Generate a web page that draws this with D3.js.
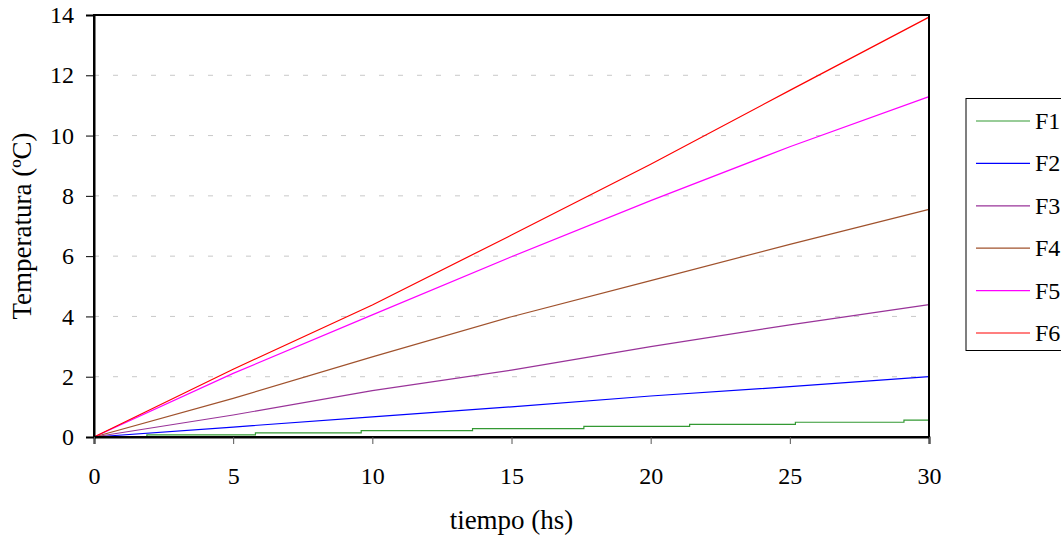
<!DOCTYPE html>
<html>
<head>
<meta charset="utf-8">
<script src="https://cdn.jsdelivr.net/npm/d3@7"></script>
<style>
	body { margin:0; background:#fff; }
	svg text { font-family:"Liberation Serif","Times New Roman",serif; fill:#000; }
</style>
</head>
<body>
<div id="chart"></div>
<script>
// hours
var tiempo = [0, 5, 10, 15, 20, 25, 30]
var F2 = [0, 0.33, 0.67, 1.0, 1.36, 1.67, 2.0]
var F3 = [0, 0.73, 1.54, 2.22, 3.0, 3.72, 4.39]
var F4 = [0, 1.28, 2.66, 3.99, 5.19, 6.39, 7.55]
var F5 = [0, 2.11, 4.05, 5.98, 7.84, 9.63, 11.29]
var F6 = [0, 2.25, 4.38, 6.70, 9.05, 11.5, 13.93]
// F1 moves in visible steps
var tiempoF1 = [0, 1.9, 5.8, 9.6, 13.6, 17.6, 21.4, 25.2, 29.1, 30]
var F1 = [0, 0.07, 0.14, 0.21, 0.28, 0.35, 0.42, 0.49, 0.56, 0.56]

var names = ["F1","F2","F3","F4","F5","F6"]
var colors = ["#339933","#0000ff","#993399","#a0522d","#ff00ff","#ff0000"]
var xTicks = [0,5,10,15,20,25,30]
var yTicks = [0,2,4,6,8,10,12,14]

var width = 1061, height = 537
var mLeft = 94, mRight = 929, mTop = 15, mBottom = 437
var serif = "'Liberation Serif','Times New Roman',serif"

var svg = d3.select("#chart").append("svg").attr("width",width).attr("height",height)

var x = d3.scaleLinear().domain([0,30]).range([mLeft,mRight])
var y = d3.scaleLinear().domain([0,14]).range([mBottom,mTop])

// grid
svg.append("g").selectAll("line").data(yTicks.filter(function(d){return d>0 && d<14})).enter()
	.append("line")
	.attr("x1",mLeft).attr("x2",mRight)
	.attr("y1",function(d){return y(d)}).attr("y2",function(d){return y(d)})
	.attr("stroke","#c8c8c8").attr("stroke-width",1)
	.attr("stroke-dasharray","5,14")

// series
var series = [
	{name:"F1", t:tiempoF1, v:F1, step:true},
	{name:"F2", t:tiempo, v:F2},
	{name:"F3", t:tiempo, v:F3},
	{name:"F4", t:tiempo, v:F4},
	{name:"F5", t:tiempo, v:F5},
	{name:"F6", t:tiempo, v:F6}
]

series.forEach(function(s,i){
	var pts = s.t.map(function(t,j){return [t,s.v[j]]})
	var line = d3.line()
		.x(function(d){return x(d[0])})
		.y(function(d){return y(d[1])})
		.curve(s.step ? d3.curveStepAfter : d3.curveLinear)
	svg.append("path").datum(pts)
		.attr("d",line)
		.attr("fill","none")
		.attr("stroke",colors[i])
		.attr("stroke-width",1.2)
})

// frame
svg.append("rect")
	.attr("x",mLeft).attr("y",mTop)
	.attr("width",mRight-mLeft).attr("height",mBottom-mTop)
	.attr("fill","none").attr("stroke","#000").attr("stroke-width",2)

// axes
var yAxis = d3.axisLeft(y).tickValues(yTicks).tickSize(8).tickPadding(12).tickFormat(d3.format("d"))
var gy = svg.append("g").attr("transform","translate("+mLeft+",0)").call(yAxis)
	.attr("font-family",serif).attr("font-size",24)
gy.select(".domain").attr("stroke","#000").attr("stroke-width",2)
gy.selectAll("text").style("font-size","24px").style("font-family",serif)

var xAxis = d3.axisBottom(x).tickValues(xTicks).tickSize(7).tickPadding(23).tickFormat(d3.format("d"))
var gx = svg.append("g").attr("transform","translate(0,"+mBottom+")").call(xAxis)
	.attr("font-family",serif).attr("font-size",24)
gx.select(".domain").attr("stroke","#000").attr("stroke-width",2)
gx.selectAll(".tick line").attr("stroke","#555")
gx.selectAll("text").style("font-size","24px").style("font-family",serif)

// titles
svg.append("text").text("tiempo (hs)")
	.attr("x",(mLeft+mRight)/2).attr("y",529)
	.attr("text-anchor","middle").style("font-size","27px")

svg.append("text").text("Temperatura (ºC)")
	.attr("transform","translate(31,226) rotate(-90)")
	.attr("text-anchor","middle").style("font-size","27px")

// legend
var lg = svg.append("g")
lg.append("rect").attr("x",966).attr("y",98.5).attr("width",110).attr("height",252)
	.attr("fill","#fff").attr("stroke","#000").attr("stroke-width",1)

var ly = d3.scalePoint().domain(names).range([121,333])
names.forEach(function(n,i){
	lg.append("line")
		.attr("x1",976).attr("x2",1030)
		.attr("y1",ly(n)).attr("y2",ly(n))
		.attr("stroke",colors[i]).attr("stroke-width",1.2)
	lg.append("text").text(n)
		.attr("x",1035).attr("y",ly(n)+8)
		.style("font-size","24px")
})
</script>
</body>
</html>
